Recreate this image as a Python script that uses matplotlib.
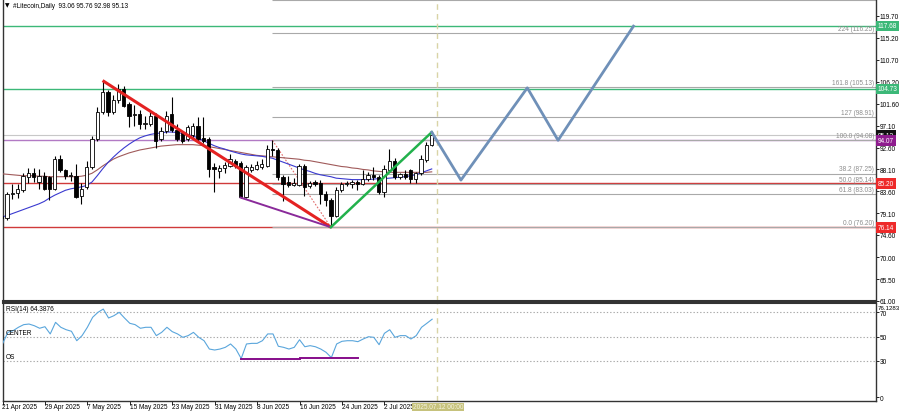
import matplotlib
matplotlib.use("Agg")
import matplotlib.pyplot as plt
import matplotlib.transforms as mtransforms
import pandas as pd

plt.rcParams['font.family'] = ['Liberation Sans', 'DejaVu Sans']

# ------------------------- data -------------------------
dates = pd.date_range("2025-04-21", "2025-07-11", freq="D")

opens = [78.5, 78.0, 83.0, 83.2, 83.8, 86.6, 87.3, 85.5, 86.8, 86.5,
         84.1, 90.3, 87.9, 86.8, 86.7, 82.6, 84.4, 88.6, 94.4, 99.9,
         104.0, 99.9, 102.3, 104.7, 101.5, 99.4, 99.5, 97.4, 97.5, 99.2,
         94.4, 96.1, 99.5, 96.2, 95.5, 94.4, 95.1, 97.1, 94.6, 94.4,
         88.6, 87.8, 88.4, 88.9, 89.9, 89.5, 82.4, 87.9, 88.2, 88.6,
         88.9, 92.3, 92.0, 86.6, 85.6, 84.9, 84.9, 88.9, 84.7, 85.6,
         85.2, 83.0, 81.7, 78.6, 83.8, 85.1, 85.0, 85.6, 85.0, 86.2,
         86.9, 86.6, 83.4, 88.0, 89.9, 86.5, 87.2, 87.9, 86.2, 87.4,
         90.0, 93.06]
highs = [82.0, 83.5, 85.1, 85.0, 87.4, 88.3, 88.3, 88.2, 87.5, 86.8,
         90.8, 91.0, 88.2, 87.6, 89.2, 85.2, 89.8, 95.0, 101.0, 106.4,
         104.5, 103.5, 105.6, 105.3, 102.0, 101.3, 100.4, 99.0, 100.2, 99.8,
         96.8, 100.2, 103.0, 97.4, 96.0, 97.3, 97.6, 98.9, 98.9, 94.8,
         89.5, 89.0, 89.6, 91.3, 90.3, 89.9, 89.0, 89.2, 89.8, 90.3,
         93.2, 94.08, 92.5, 87.0, 86.8, 86.3, 89.3, 89.2, 85.8, 86.0,
         86.0, 83.7, 82.3, 84.5, 85.6, 85.8, 86.0, 86.0, 88.0, 87.5,
         88.6, 87.0, 89.0, 92.3, 90.5, 87.4, 87.9, 88.2, 87.6, 91.0,
         93.7, 95.76]
lows = [77.6, 77.6, 82.0, 82.3, 83.5, 85.2, 85.6, 84.1, 83.9, 81.7,
        83.8, 87.5, 86.2, 85.8, 82.2, 81.0, 84.0, 88.2, 94.0, 99.5,
        99.0, 99.5, 101.8, 100.9, 96.8, 97.0, 96.5, 96.5, 97.0, 92.5,
        94.0, 95.5, 95.8, 94.0, 93.6, 94.0, 94.6, 94.0, 93.5, 86.6,
        83.5, 86.3, 87.4, 88.7, 88.3, 82.2, 82.2, 87.5, 87.9, 88.2,
        88.6, 90.8, 86.0, 81.6, 84.4, 84.6, 84.6, 82.7, 84.2, 84.6,
        81.0, 80.6, 76.2, 78.2, 83.4, 84.6, 84.3, 83.9, 84.8, 85.7,
        85.9, 83.0, 82.5, 87.6, 86.2, 86.2, 86.2, 85.2, 85.3, 87.0,
        89.7, 92.98]
closes = [78.0, 83.0, 83.3, 84.0, 86.8, 87.3, 86.6, 86.8, 84.1, 84.1,
          90.3, 87.9, 86.8, 86.9, 82.4, 84.1, 88.6, 94.4, 99.9, 104.0,
          99.9, 102.3, 104.7, 101.2, 99.2, 99.6, 97.5, 97.6, 99.2, 94.0,
          96.1, 99.0, 96.2, 94.4, 94.0, 96.9, 97.1, 94.4, 93.9, 88.2,
          88.1, 88.4, 89.0, 90.3, 88.9, 82.4, 88.6, 88.6, 89.0, 89.3,
          92.3, 92.0, 86.6, 85.0, 84.8, 85.4, 88.9, 84.4, 85.4, 85.1,
          83.0, 81.7, 78.6, 83.8, 85.1, 85.2, 85.6, 85.0, 86.2, 86.9,
          86.6, 83.4, 88.2, 89.9, 86.5, 87.1, 86.6, 86.2, 87.3, 90.3,
          93.1, 95.13]

ma_fast = [78.3, 78.6, 79.0, 79.4, 79.8, 80.2, 80.6, 81.0, 81.5, 82.2,
           82.8, 83.3, 83.8, 84.1, 84.3, 84.5, 84.8, 85.5, 86.8, 88.2,
           89.5, 90.6, 91.6, 92.5, 93.3, 94.0, 94.6, 95.0, 95.3, 95.5,
           95.6, 95.8, 95.8, 95.7, 95.5, 95.3, 95.0, 94.6, 94.0, 93.5,
           93.0, 92.6, 92.3, 91.9, 91.6, 91.3, 91.1, 91.0, 90.9, 90.8,
           90.6, 90.4, 90.0, 89.6, 89.2, 88.8, 88.4, 88.0, 87.7, 87.3,
           87.0, 86.8, 86.6, 86.3, 86.2, 86.1, 86.0, 86.0, 86.0, 86.0,
           86.1, 86.2, 86.2, 86.3, 86.4, 86.5, 86.6, 86.8, 87.0, 87.4,
           87.8, 88.2]
ma_slow = [87.2, 87.1, 87.0, 86.9, 86.8, 86.8, 86.8, 86.7, 86.7, 86.6,
           86.6, 86.6, 86.6, 86.6, 86.6, 86.7, 86.9, 87.3, 88.0, 88.8,
           89.5, 90.2, 90.7, 91.1, 91.5, 91.8, 92.1, 92.3, 92.5, 92.7,
           92.9, 93.0, 93.1, 93.2, 93.2, 93.2, 93.2, 93.1, 93.0, 92.8,
           92.6, 92.4, 92.2, 92.0, 91.8, 91.6, 91.4, 91.2, 91.0, 90.9,
           90.8, 90.7, 90.6, 90.5, 90.4, 90.3, 90.2, 90.0, 89.9, 89.7,
           89.5, 89.3, 89.1, 88.9, 88.7, 88.6, 88.4, 88.3, 88.1, 88.0,
           87.8, 87.7, 87.6, 87.5, 87.5, 87.5, 87.5, 87.5, 87.5, 87.5,
           87.5, 87.6]

rsi = [43.9, 53.5, 54.9, 57.7, 59.9, 60.4, 59.0, 56.9, 58.2, 52.2,
       61.8, 57.7, 55.7, 54.4, 46.6, 50.8, 57.7, 66.0, 70.1, 72.8,
       65.4, 67.3, 70.1, 65.4, 61.0, 59.9, 56.9, 57.7, 57.7, 50.8,
       53.5, 57.7, 54.1, 52.2, 49.4, 50.8, 53.5, 49.4, 46.6, 39.7,
       38.9, 39.7, 41.1, 43.9, 39.7, 31.8, 43.9, 44.4, 44.4, 46.6,
       52.2, 52.2, 42.0, 41.1, 39.7, 41.1, 47.4, 41.6, 42.5, 41.6,
       39.7, 37.0, 32.6, 43.9, 46.1, 46.6, 46.6, 45.8, 48.0, 49.9,
       49.4, 43.3, 52.7, 55.7, 49.4, 50.8, 50.8, 48.0, 50.8, 57.7,
       61.0, 64.39]

price_ticks = [119.70, 115.20, 110.70, 106.20, 101.60, 97.10, 92.60,
               88.10, 83.60, 79.10, 74.60, 70.00, 65.50, 61.00]
tick_dates = ["2025-04-21", "2025-04-29", "2025-05-07", "2025-05-15", "2025-05-23",
              "2025-05-31", "2025-06-08", "2025-06-16", "2025-06-24", "2025-07-02"]

fib_names = ["0.0", "38.2", "50.0", "61.8", "100.0", "127", "161.8", "224", "261.8"]
fib_values = [76.20, 87.25, 85.14, 83.03, 94.08, 98.91, 105.13, 116.25, 123.01]

green_levels = [117.68, 104.73]
red_levels = [85.20, 76.14]
purple_level = 94.07
bid_price = 95.13

# hand-drawn objects (bar index, price)
red_trend = ([19, 62], [106.4, 76.2])
purple_trend = ([45, 62], [82.3, 76.2])
green_trend = ([62, 81], [76.2, 95.76])
fib_base = ([51, 62], [94.08, 76.2])
projection = ([81, 86.5, 99, 104.8, 119], [95.76, 85.9, 104.9, 94.1, 117.6])
rsi_support = ([45, 56, 56, 67], [31.8, 31.8, 32.3, 32.3])

# ------------------------- layout -------------------------
W, H = 900, 414
fig = plt.figure(figsize=(9, 4.14), dpi=100)
fig.patch.set_facecolor("white")

def fx(px): return px / W
def fy(py): return 1 - py / H

L_PX, R_PX = 2.5, 876
ax = fig.add_axes([fx(L_PX), fy(302), fx(R_PX) - fx(L_PX), fy(0) - fy(302)])
ax2 = fig.add_axes([fx(L_PX), fy(401.7), fx(R_PX) - fx(L_PX), fy(304.3) - fy(401.7)])

X0, DX = 1.7, 5.309
def d_of(px): return (px - X0) / DX
def p_of(py): return 119.7 - (py - 17) / 4.86

xmin, xmax = d_of(L_PX), d_of(R_PX)
for a in (ax, ax2):
    a.set_xlim(xmin, xmax)
    a.set_facecolor("white")
ax.set_ylim(p_of(302), p_of(0))
ax2.set_ylim(-3.06, 77.56)

FS = 4.7
idx = list(range(len(dates)))

# horizontal reference lines
for lv in green_levels:
    ax.axhline(lv, color="#3cb878", lw=1.0, zorder=1)
for lv in red_levels:
    ax.axhline(lv, color="#d03a3a", lw=1.0, zorder=1)
ax.axhline(purple_level, color="#b27ac4", lw=1.0, zorder=1)
ax.axhline(bid_price, color="#c8c8c8", lw=0.8, zorder=1)

# fibonacci lines (top level's label lies above the visible area)
for nm, v in zip(fib_names, fib_values):
    ax.hlines(v, fib_base[0][0], xmax, color="#a9a9a9", lw=0.8, zorder=1)
    if v < p_of(8):
        ax.text(d_of(874), v + 0.25, f"{nm} ({v:.2f})", ha="right", va="bottom",
                fontsize=FS, color="#8c8c8c", zorder=2, clip_on=True)
ax.plot(fib_base[0], fib_base[1], color="#e06a6a", lw=0.8, ls=(0, (1.5, 1.5)), zorder=2)

# moving averages
ax.plot(idx, ma_slow, color="#a05a5a", lw=0.8, zorder=3)
ax.plot(idx, ma_fast, color="#3a3ad0", lw=0.8, zorder=3)

# candles
for i, (o, h, l, c) in enumerate(zip(opens, highs, lows, closes)):
    ax.vlines(i, l, h, color="black", lw=0.8, zorder=4)
    bull = c >= o
    ax.bar(i, max(abs(c - o), 0.08), bottom=min(o, c), width=0.62,
           color="white" if bull else "black", edgecolor="black", lw=0.6, zorder=5)

# drawn trend lines
ax.plot(*red_trend, color="#e42222", lw=2.2, zorder=6, solid_capstyle="butt")
ax.plot(*purple_trend, color="#8a2a9a", lw=1.4, zorder=6)
ax.plot(*green_trend, color="#22b14c", lw=1.8, zorder=6)
ax.plot(*projection, color="#6f90b8", lw=2.0, zorder=6)

# vertical time marker
for a in (ax, ax2):
    a.axvline(82, color="#d9d4a6", lw=1.0, ls=(0, (4, 3)), zorder=2)

# price axis
ax.yaxis.tick_right()
ax.set_yticks(price_ticks)
ax.set_yticklabels([f"{t:.2f}" for t in price_ticks], fontsize=FS)
ax.tick_params(axis="y", length=2, width=0.6, pad=0.8, colors="black")
ax.set_xticks([])
ax.spines["top"].set_visible(False)
for s in ("left", "right", "bottom"):
    ax.spines[s].set_color("#333333")
    ax.spines[s].set_linewidth(1.0)
ax.spines["bottom"].set_linewidth(1.5)

# price tags
btr = mtransforms.blended_transform_factory(ax.transAxes, ax.transData)
tags = [(117.68, "#3cb878"), (104.73, "#3cb878"), (bid_price, "#111111"),
        (purple_level, "#8e1c8e"), (85.20, "#ee2a2a"), (76.14, "#ee2a2a")]
for v, col in tags:
    ax.text(1.002, v, f"{v:.2f}", transform=btr, ha="left", va="center",
            fontsize=FS, color="white", zorder=10, clip_on=False,
            bbox=dict(boxstyle="square,pad=0.25", fc=col, ec="none"))

# title
fig.text(fx(5), fy(6), "\u25bc", fontsize=4.2, color="black", va="center", ha="left",
         family=["DejaVu Sans"])
fig.text(fx(13), fy(6), "#Litecoin,Daily  93.06 95.76 92.98 95.13",
         fontsize=FS, color="black", va="center", ha="left")

# ------------------------- RSI panel -------------------------
for lv in (70, 50, 30):
    ax2.axhline(lv, color="#a8a8a8", lw=0.8, ls=(0, (1.2, 1.8)), zorder=1)
ax2.plot(idx, rsi, color="#5aa6dc", lw=0.8, zorder=3)
ax2.plot(rsi_support[0][:2], rsi_support[1][:2], color="#860d8a", lw=1.4, zorder=4)
ax2.plot(rsi_support[0][2:], rsi_support[1][2:], color="#860d8a", lw=1.4, zorder=4)

ax2.yaxis.tick_right()
ax2.set_yticks([0, 30, 50, 70])
ax2.set_yticklabels(["0", "30", "50", "70"], fontsize=FS)
ax2.tick_params(axis="y", length=2, width=0.6, pad=0.8)
for s in ax2.spines.values():
    s.set_color("#333333")
    s.set_linewidth(1.0)
ax2.spines["top"].set_linewidth(1.5)
fig.text(fx(877.5), fy(309), "76.1283", fontsize=4.4, ha="left", va="center")
ax2.text(d_of(5), 70.5, "RSI(14) 64.3876", fontsize=FS, ha="left", va="bottom")
ax2.text(d_of(5), 50.5, "CENTER", fontsize=FS, ha="left", va="bottom")
ax2.text(d_of(5), 30.5, "OS", fontsize=FS, ha="left", va="bottom")

# date axis
pos = [list(dates.strftime("%Y-%m-%d")).index(t) for t in tick_dates]
ax2.set_xticks(pos)
ax2.set_xticklabels([])
ax2.tick_params(axis="x", length=3, width=0.6, direction="out")
for p, t in zip(pos, tick_dates):
    lab = pd.Timestamp(t).strftime("%-d %b %Y")
    x_px = X0 + DX * p
    fig.text(fx(x_px + 0.5), fy(408), lab, fontsize=FS, ha="left", va="center")
fig.text(fx(413), fy(408), "2025.07.12 00:00", fontsize=FS, ha="left", va="center",
         color="#f4f2e0", bbox=dict(boxstyle="square,pad=0.15", fc="#c6c27c", ec="none"))

fig.savefig("out.png", dpi=100)
